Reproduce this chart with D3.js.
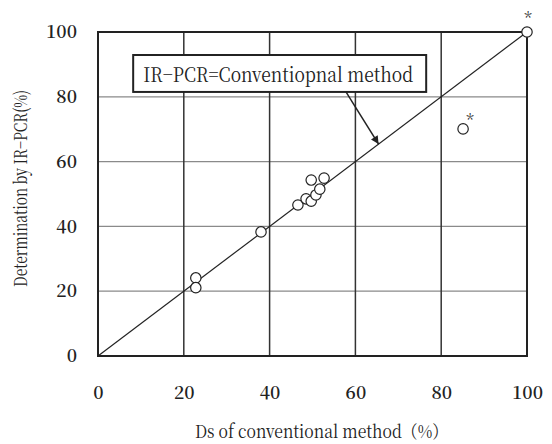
<!DOCTYPE html>
<html>
<head>
<meta charset="utf-8">
<script src="https://cdn.jsdelivr.net/npm/d3@7"></script>
<style>
  html, body { margin: 0; padding: 0; background: #fff; }
  svg { display: block; }
</style>
</head>
<body>
<svg id="chart" width="552" height="444"></svg>
<script>
// Ds measured by the conventional method vs. determination by IR-PCR (%)
const conventionalDs = [22.8, 22.8, 38.0, 46.6, 48.5, 49.7, 50.8, 51.7, 49.7, 52.7, 85.1, 100];
const irPcrValues    = [24.1, 21.1, 38.3, 46.6, 48.5, 47.8, 49.7, 51.5, 54.3, 54.9, 70.1, 100];
const flaggedSample  = [false, false, false, false, false, false, false, false, false, false, true, true];

const xTickValues = [0, 20, 40, 60, 80, 100];
const yTickValues = [0, 20, 40, 60, 80, 100];

const xTitle = "Ds of conventional method\uff08%\uff09";
const yTitle = "Determination by IR\u2212PCR(%)";
const lineLabel = "IR\u2212PCR=Conventiopnal method";

const FONT = "'Noto Serif CJK JP', 'Liberation Serif', serif";
const INK = "#222";

const W = 552, H = 444;
const margin = { top: 32, right: 25, bottom: 88, left: 98 };
const svg = d3.select("#chart");

const x = d3.scaleLinear().domain([0, 100]).range([margin.left, W - margin.right]);
const y = d3.scaleLinear().domain([0, 100]).range([H - margin.bottom, margin.top]);

// horizontal grid (light)
svg.append("g")
  .selectAll("line")
  .data(yTickValues.filter(v => v > 0 && v < 100))
  .join("line")
  .attr("x1", x(0)).attr("x2", x(100))
  .attr("y1", d => y(d)).attr("y2", d => y(d))
  .attr("stroke", "#8a8a8a").attr("stroke-width", 1.3);

// vertical grid (darker)
svg.append("g")
  .selectAll("line")
  .data(xTickValues.filter(v => v > 0 && v < 100))
  .join("line")
  .attr("x1", d => x(d)).attr("x2", d => x(d))
  .attr("y1", y(0)).attr("y2", y(100))
  .attr("stroke", "#333").attr("stroke-width", 1.5);

// plot frame
svg.append("rect")
  .attr("x", x(0)).attr("y", y(100))
  .attr("width", x(100) - x(0)).attr("height", y(0) - y(100))
  .attr("fill", "none").attr("stroke", INK).attr("stroke-width", 2);

// tick labels via axes (no domain/tick lines)
const xAxis = svg.append("g")
  .attr("transform", `translate(0,${y(0)})`)
  .call(d3.axisBottom(x).tickValues(xTickValues).tickSize(0).tickPadding(30));
const yAxis = svg.append("g")
  .attr("transform", `translate(${x(0)},0)`)
  .call(d3.axisLeft(y).tickValues(yTickValues).tickSize(0).tickPadding(21));
[xAxis, yAxis].forEach(g => {
  g.select(".domain").remove();
  g.selectAll("text")
    .style("font-family", FONT)
    .style("font-size", "18px")
    .style("font-weight", "600")
    .style("fill", INK);
});

// identity line
svg.append("line")
  .attr("x1", x(0)).attr("y1", y(0))
  .attr("x2", x(100)).attr("y2", y(100))
  .attr("stroke", INK).attr("stroke-width", 1.2);

// samples
const pts = conventionalDs.map((d, i) => ({ cx: d, cy: irPcrValues[i], flag: flaggedSample[i] }));
svg.append("g")
  .selectAll("circle")
  .data(pts)
  .join("circle")
  .attr("cx", d => x(d.cx)).attr("cy", d => y(d.cy))
  .attr("r", 5.2)
  .attr("fill", "#fff").attr("stroke", INK).attr("stroke-width", 1.2);

// asterisks on flagged samples
svg.append("g")
  .selectAll("text")
  .data(pts.filter(d => d.flag))
  .join("text")
  .attr("x", d => x(d.cx) + (d.cx >= 100 ? 1 : 7))
  .attr("y", d => y(d.cy) - (d.cx >= 100 ? 8 : 3))
  .attr("text-anchor", "middle")
  .style("font-family", FONT)
  .style("font-size", "16px")
  .style("fill", INK)
  .text("*");

// annotation box for the identity line
const box = { x0: 8.2, x1: 76.5, y0: 92.9, y1: 81.5 };
svg.append("rect")
  .attr("x", x(box.x0)).attr("y", y(box.y0))
  .attr("width", x(box.x1) - x(box.x0)).attr("height", y(box.y1) - y(box.y0))
  .attr("fill", "#fff").attr("stroke", INK).attr("stroke-width", 2);
svg.append("text")
  .attr("x", x(box.x0) + 10).attr("y", y(box.y1) - 10)
  .attr("textLength", 270).attr("lengthAdjust", "spacingAndGlyphs")
  .style("font-family", FONT)
  .style("font-size", "20px")
  .style("fill", INK)
  .text(lineLabel);

// arrow from the box to the identity line
svg.append("defs").append("marker")
  .attr("id", "head").attr("viewBox", "0 0 10 10")
  .attr("refX", 10).attr("refY", 5)
  .attr("markerWidth", 10).attr("markerHeight", 8)
  .attr("markerUnits", "userSpaceOnUse")
  .attr("orient", "auto")
  .append("path").attr("d", "M0,0 L10,5 L0,10 Z").attr("fill", INK);
const arrowFrom = [57.8, box.y1], arrowTo = [65.4, 65.4];
svg.append("line")
  .attr("x1", x(arrowFrom[0])).attr("y1", y(arrowFrom[1]))
  .attr("x2", x(arrowTo[0])).attr("y2", y(arrowTo[1]))
  .attr("stroke", INK).attr("stroke-width", 1.5)
  .attr("marker-end", "url(#head)");

// axis titles
svg.append("text")
  .attr("x", 195).attr("y", 438)
  .attr("textLength", 253).attr("lengthAdjust", "spacingAndGlyphs")
  .style("font-family", FONT)
  .style("font-size", "18px")
  .style("fill", INK)
  .text(xTitle);
svg.append("text")
  .attr("transform", "translate(27,287) rotate(-90)")
  .attr("textLength", 197).attr("lengthAdjust", "spacingAndGlyphs")
  .style("font-family", FONT)
  .style("font-size", "18px")
  .style("fill", INK)
  .text(yTitle);
</script>
</body>
</html>
